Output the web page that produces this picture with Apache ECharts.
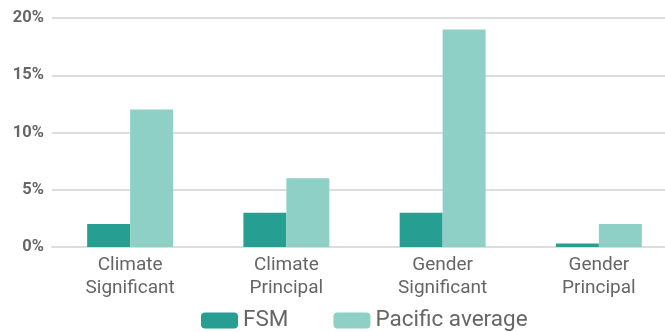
<!DOCTYPE html>
<html><head><meta charset="utf-8">
<script src="https://cdn.jsdelivr.net/npm/echarts@6/dist/echarts.min.js"></script>
<style>html,body{margin:0;padding:0;background:#fff}#c{width:665px;height:332px}</style>
</head><body><div id="c"></div>
<script>
const categories = ['Climate\nSignificant', 'Climate\nPrincipal', 'Gender\nSignificant', 'Gender\nPrincipal'];
const fsm = [2, 3, 3, 0.3];
const pacific = [12, 6, 19, 2];
const yTicks = [0, 5, 10, 15, 20];

const chart = echarts.init(document.getElementById('c'));
chart.setOption({
  animation: false,
  textStyle: { fontFamily: 'Roboto' },
  grid: { left: 52, width: 625, top: 18, bottom: 85, outerBoundsMode: 'none', containLabel: false },
  legend: {
    bottom: -5, left: 196, itemWidth: 37, itemHeight: 16, itemGap: 45,
    textStyle: { fontSize: 22.5, color: '#666', fontFamily: 'Roboto' },
    data: ['FSM', 'Pacific average']
  },
  xAxis: {
    type: 'category', data: categories,
    axisLine: { lineStyle: { color: '#ddd', width: 2 } },
    axisTick: { show: false },
    axisLabel: { fontSize: 19, color: '#666', lineHeight: 23, margin: 7 }
  },
  yAxis: {
    type: 'value', min: yTicks[0], max: yTicks[yTicks.length - 1], interval: 5,
    axisLabel: { formatter: '{value}%', fontSize: 16.5, color: '#666', fontWeight: 'bold', margin: 8 },
    splitLine: { lineStyle: { color: '#ddd', width: 2 } },
    axisLine: { show: false }, axisTick: { show: false }
  },
  series: [
    { name: 'FSM', type: 'bar', data: fsm, barGap: '0%', barCategoryGap: '45%', itemStyle: { color: '#279e92' } },
    { name: 'Pacific average', type: 'bar', data: pacific, itemStyle: { color: '#8fd0c6' } }
  ]
});
</script></body></html>
